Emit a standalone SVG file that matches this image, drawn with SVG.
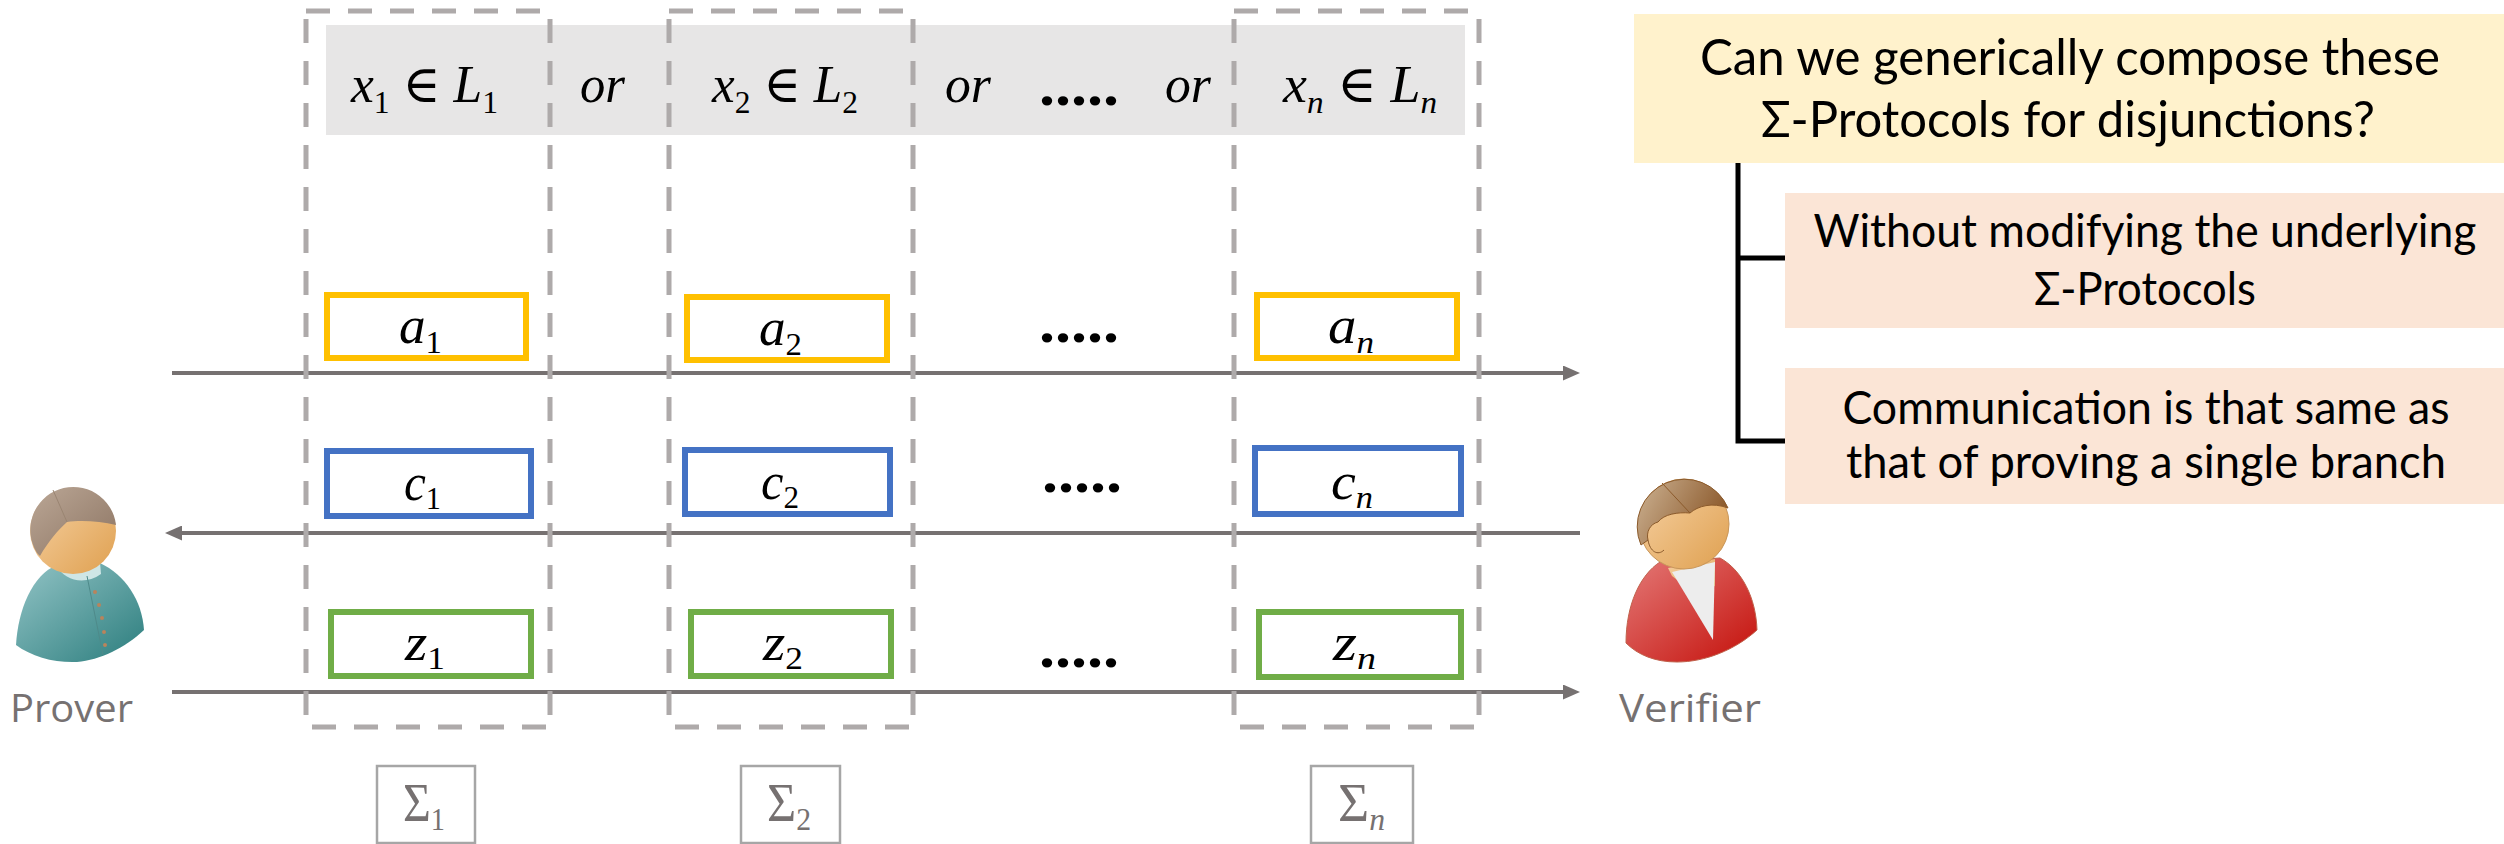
<svg xmlns="http://www.w3.org/2000/svg" width="2504" height="844" viewBox="0 0 2504 844">
  <style>
    .m { font-family: "Liberation Serif", "DejaVu Serif", serif; font-size: 52px; fill: #000; }
    .i { font-style: italic; }
    .sub { font-size: 32px; font-style: normal; }
    .subi { font-size: 32px; font-style: italic; }
    .dots { font-family: "Liberation Serif", "DejaVu Serif", serif; font-size: 56px; font-weight: bold; fill: #000; }
    .sig { fill: #767171; font-size: 54px; }
    .cal { font-family: Lato, "Liberation Sans", sans-serif; fill: #000; text-anchor: middle; }
    .who { font-family: "Open Sans", "Liberation Sans", sans-serif; font-size: 39px; fill: #767171; }
    .dash { stroke: #AEAAAA; stroke-width: 5; stroke-dasharray: 24 18; fill: none; }
    .msgA { fill: #fff; stroke: #FFC000; stroke-width: 6; }
    .msgC { fill: #fff; stroke: #4472C4; stroke-width: 6; }
    .msgZ { fill: #fff; stroke: #70AD47; stroke-width: 6; }
    .sbox { fill: #fff; stroke: #A6A6A6; stroke-width: 2.5; }
    .flow { stroke: #767171; stroke-width: 4; fill: none; marker-end: url(#head); }
    .tree { stroke: #000; stroke-width: 5; fill: none; }
  </style>
  <defs>
    <marker id="head" markerUnits="userSpaceOnUse" markerWidth="17" markerHeight="15" viewBox="0 0 17 15" refX="5" refY="7.5" orient="auto">
      <path d="M0,0 L17,7.5 L0,15 z" fill="#767171"/>
    </marker>
    <linearGradient id="teal" x1="0" y1="0" x2="1" y2="1">
      <stop offset="0" stop-color="#93C4C6"/>
      <stop offset="1" stop-color="#2B7D7D"/>
    </linearGradient>
    <linearGradient id="skin" x1="0" y1="0" x2="1" y2="1">
      <stop offset="0" stop-color="#F7D3A6"/>
      <stop offset="1" stop-color="#DFA050"/>
    </linearGradient>
    <linearGradient id="greyHair" x1="0" y1="0" x2="1" y2="1">
      <stop offset="0" stop-color="#BBA796"/>
      <stop offset="1" stop-color="#8C7462"/>
    </linearGradient>
    <linearGradient id="red" x1="0" y1="0" x2="1" y2="1">
      <stop offset="0" stop-color="#E47A78"/>
      <stop offset="1" stop-color="#C4100A"/>
    </linearGradient>
    <linearGradient id="brownHair" x1="0" y1="0" x2="1" y2="0.4">
      <stop offset="0" stop-color="#CDB394"/>
      <stop offset="1" stop-color="#8C5A2C"/>
    </linearGradient>
  </defs>

  <rect width="2504" height="844" fill="#fff"/>

  <!-- statement bar across the top -->
  <g id="statement-bar">
    <rect x="326" y="25" width="1139" height="110" fill="#E7E6E6"/>
    <text class="m" x="351" y="102" textLength="147" lengthAdjust="spacingAndGlyphs"><tspan class="i">x</tspan><tspan class="sub" dy="11">1</tspan><tspan dy="-11"> ∈ </tspan><tspan class="i">L</tspan><tspan class="sub" dy="11">1</tspan></text>
    <text class="m i" x="580" y="102" textLength="45" lengthAdjust="spacingAndGlyphs">or</text>
    <text class="m" x="712" y="102" textLength="146" lengthAdjust="spacingAndGlyphs"><tspan class="i">x</tspan><tspan class="sub" dy="11">2</tspan><tspan dy="-11"> ∈ </tspan><tspan class="i">L</tspan><tspan class="sub" dy="11">2</tspan></text>
    <text class="m i" x="945" y="102" textLength="46" lengthAdjust="spacingAndGlyphs">or</text>
    <text class="dots" x="1039" y="105" textLength="80" lengthAdjust="spacingAndGlyphs">.....</text>
    <text class="m i" x="1165" y="102" textLength="46" lengthAdjust="spacingAndGlyphs">or</text>
    <text class="m" x="1283" y="102" textLength="154" lengthAdjust="spacingAndGlyphs"><tspan class="i">x</tspan><tspan class="subi" dy="11">n</tspan><tspan dy="-11"> ∈ </tspan><tspan class="i">L</tspan><tspan class="subi" dy="11">n</tspan></text>
  </g>

  <!-- message flow between prover and verifier -->
  <g id="connectors">
    <line class="flow" x1="172" y1="373" x2="1568" y2="373"/>
    <line class="flow" x1="1580" y1="533" x2="177" y2="533"/>
    <line class="flow" x1="172" y1="692" x2="1568" y2="692"/>
    <path class="tree" d="M1738,161 V441 H1785"/>
    <path class="tree" d="M1738,258 H1785"/>
  </g>

  <!-- one dashed column per sigma protocol -->
  <g id="column-1">
    <line class="dash" x1="306" y1="11" x2="550" y2="11"/>
    <line class="dash" x1="312" y1="727" x2="550" y2="727"/>
    <line class="dash" x1="306" y1="19" x2="306" y2="727"/>
    <line class="dash" x1="550" y1="19" x2="550" y2="727"/>
  </g>
  <g id="column-2">
    <line class="dash" x1="669" y1="11" x2="913" y2="11"/>
    <line class="dash" x1="675" y1="727" x2="913" y2="727"/>
    <line class="dash" x1="669" y1="19" x2="669" y2="727"/>
    <line class="dash" x1="913" y1="19" x2="913" y2="727"/>
  </g>
  <g id="column-n">
    <line class="dash" x1="1234" y1="11" x2="1479" y2="11"/>
    <line class="dash" x1="1240" y1="727" x2="1479" y2="727"/>
    <line class="dash" x1="1234" y1="19" x2="1234" y2="727"/>
    <line class="dash" x1="1479" y1="19" x2="1479" y2="727"/>
  </g>

  <!-- first messages -->
  <g id="msg-a1">
    <rect class="msgA" x="327" y="295" width="199" height="63"/>
    <text class="m" x="399" y="343" textLength="43" lengthAdjust="spacingAndGlyphs"><tspan class="i">a</tspan><tspan class="sub" dy="10">1</tspan></text>
  </g>
  <g id="msg-a2">
    <rect class="msgA" x="687" y="297" width="200" height="63"/>
    <text class="m" x="759" y="345" textLength="43" lengthAdjust="spacingAndGlyphs"><tspan class="i">a</tspan><tspan class="sub" dy="10">2</tspan></text>
  </g>
  <g id="msg-an">
    <rect class="msgA" x="1257" y="295" width="200" height="63"/>
    <text class="m" x="1328" y="343" textLength="46" lengthAdjust="spacingAndGlyphs"><tspan class="i">a</tspan><tspan class="subi" dy="10">n</tspan></text>
  </g>
  <text class="dots" x="1039" y="342" textLength="80" lengthAdjust="spacingAndGlyphs">.....</text>

  <!-- challenges -->
  <g id="msg-c1">
    <rect class="msgC" x="327" y="451" width="204" height="65"/>
    <text class="m" x="404" y="500" textLength="37" lengthAdjust="spacingAndGlyphs"><tspan class="i">c</tspan><tspan class="sub" dy="9">1</tspan></text>
  </g>
  <g id="msg-c2">
    <rect class="msgC" x="685" y="450" width="205" height="64"/>
    <text class="m" x="761" y="499" textLength="38" lengthAdjust="spacingAndGlyphs"><tspan class="i">c</tspan><tspan class="sub" dy="9">2</tspan></text>
  </g>
  <g id="msg-cn">
    <rect class="msgC" x="1255" y="448" width="206" height="66"/>
    <text class="m" x="1331" y="499" textLength="42" lengthAdjust="spacingAndGlyphs"><tspan class="i">c</tspan><tspan class="subi" dy="9">n</tspan></text>
  </g>
  <text class="dots" x="1042" y="492" textLength="80" lengthAdjust="spacingAndGlyphs">.....</text>

  <!-- responses -->
  <g id="msg-z1">
    <rect class="msgZ" x="331" y="612" width="200" height="64"/>
    <text class="m" x="405" y="660" textLength="40" lengthAdjust="spacingAndGlyphs"><tspan class="i">z</tspan><tspan class="sub" dy="9">1</tspan></text>
  </g>
  <g id="msg-z2">
    <rect class="msgZ" x="691" y="612" width="200" height="64"/>
    <text class="m" x="763" y="660" textLength="40" lengthAdjust="spacingAndGlyphs"><tspan class="i">z</tspan><tspan class="sub" dy="9">2</tspan></text>
  </g>
  <g id="msg-zn">
    <rect class="msgZ" x="1259" y="612" width="202" height="65"/>
    <text class="m" x="1333" y="660" textLength="43" lengthAdjust="spacingAndGlyphs"><tspan class="i">z</tspan><tspan class="subi" dy="9">n</tspan></text>
  </g>
  <text class="dots" x="1039" y="667" textLength="80" lengthAdjust="spacingAndGlyphs">.....</text>

  <!-- protocol labels under the columns -->
  <g id="label-sigma-1">
    <rect class="sbox" x="377" y="766" width="98" height="77"/>
    <text class="m sig" x="403" y="821" textLength="42" lengthAdjust="spacingAndGlyphs">Σ<tspan class="sub" dy="9">1</tspan></text>
  </g>
  <g id="label-sigma-2">
    <rect class="sbox" x="741" y="766" width="99" height="77"/>
    <text class="m sig" x="767" y="821" textLength="44" lengthAdjust="spacingAndGlyphs">Σ<tspan class="sub" dy="9">2</tspan></text>
  </g>
  <g id="label-sigma-n">
    <rect class="sbox" x="1311" y="766" width="102" height="77"/>
    <text class="m sig" x="1338" y="821" textLength="47" lengthAdjust="spacingAndGlyphs">Σ<tspan class="subi" dy="9">n</tspan></text>
  </g>

  <!-- prover figure -->
  <g id="prover">
    <path d="M16,645 C18,610 32,575 57,565 L100,563 C125,575 142,600 144,630 C125,648 100,660 77,662 C55,663 32,657 16,645 Z" fill="url(#teal)"/>
    <path d="M57,566 C64,580 84,586 101,574 L100,562 Z" fill="#CFE6E6"/>
    <line x1="87" y1="576" x2="103" y2="655" stroke="#4E8A8A" stroke-width="1"/>
    <g fill="#B9845C">
      <circle cx="95" cy="592" r="2"/>
      <circle cx="99" cy="605" r="2"/>
      <circle cx="102" cy="618" r="2"/>
      <circle cx="104" cy="632" r="2"/>
      <circle cx="105" cy="645" r="2"/>
    </g>
    <circle cx="73" cy="531" r="43" fill="url(#skin)"/>
    <path d="M37,553 A43,43 0 1 1 116,525 C100,521 80,520 67,522 C58,530 48,542 40,556 Z" fill="url(#greyHair)"/>
    <line x1="53" y1="490" x2="67" y2="522" stroke="#9A8572" stroke-width="1"/>
    <text class="who" x="10" y="722" textLength="123" lengthAdjust="spacingAndGlyphs">Prover</text>
  </g>

  <!-- verifier figure -->
  <g id="verifier">
    <path d="M1626,643 C1626,605 1640,575 1660,562 L1720,558 C1742,570 1756,598 1757,630 C1735,650 1705,662 1677,662 C1655,662 1638,655 1626,643 Z" fill="url(#red)" stroke="#C0604A" stroke-width="1"/>
    <path d="M1668,568 L1715,559 L1715,586 C1700,590 1683,586 1672,576 Z" fill="url(#skin)"/>
    <path d="M1672,572 L1715,562 L1713,640 Z" fill="#EDEDED"/>
    <circle cx="1684" cy="524" r="45" fill="url(#skin)" stroke="#C8965A" stroke-width="1"/>
    <path d="M1641,545 A45,45 0 0 1 1728,508 C1712,502 1698,506 1690,513 C1678,512 1664,514 1658,522 C1650,524 1646,532 1648,540 Z" fill="url(#brownHair)" stroke="#8B5A2B" stroke-width="1"/>
    <path d="M1648,540 C1650,552 1658,556 1664,550" fill="none" stroke="#8B5A2B" stroke-width="1"/>
    <line x1="1662" y1="483" x2="1690" y2="513" stroke="#8B5A2B" stroke-width="1"/>
    <text class="who" x="1619" y="722" textLength="142" lengthAdjust="spacingAndGlyphs">Verifier</text>
  </g>

  <!-- question and its two requirements -->
  <g id="question">
    <rect x="1634" y="14" width="870" height="149" fill="#FFF2CC"/>
    <text class="cal" x="2070" y="75" font-size="51" textLength="740" lengthAdjust="spacingAndGlyphs">Can we generically compose these</text>
    <text class="cal" x="2068" y="137" font-size="51" textLength="614" lengthAdjust="spacingAndGlyphs">Σ-Protocols for disjunctions?</text>
  </g>
  <g id="req-unmodified">
    <rect x="1785" y="193" width="719" height="135" fill="#FBE5D6"/>
    <text class="cal" x="2145" y="247" font-size="46" textLength="663" lengthAdjust="spacingAndGlyphs">Without modifying the underlying</text>
    <text class="cal" x="2145" y="305" font-size="46" textLength="222" lengthAdjust="spacingAndGlyphs">Σ-Protocols</text>
  </g>
  <g id="req-communication">
    <rect x="1785" y="368" width="719" height="136" fill="#FBE5D6"/>
    <text class="cal" x="2146" y="424" font-size="46" textLength="607" lengthAdjust="spacingAndGlyphs">Communication is that same as</text>
    <text class="cal" x="2146" y="478" font-size="46" textLength="600" lengthAdjust="spacingAndGlyphs">that of proving a single branch</text>
  </g>
</svg>
